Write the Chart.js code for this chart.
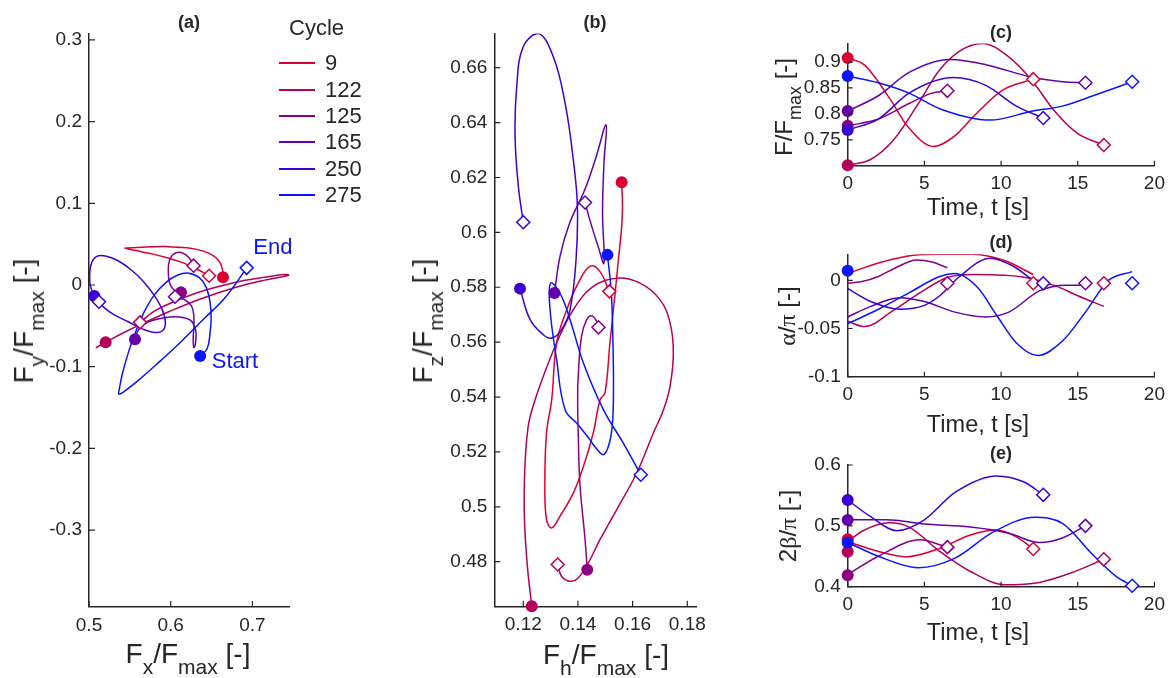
<!DOCTYPE html>
<html>
<head>
<meta charset="utf-8">
<script src="https://cdn.jsdelivr.net/npm/chart.js@4.4.0/dist/chart.umd.min.js"></script>
<style>
  body { margin: 0; background: #fff; }
  #wrap { position: relative; width: 1172px; height: 678px; overflow: hidden;
          font-family: "Liberation Sans", Arial, sans-serif; color: #262626; }
  #wrap canvas { position: absolute; left: 0; top: 0; }
  .lbl { position: absolute; white-space: nowrap; line-height: 1; }
  .lbl sub { font-size: 0.75em; position: relative; top: 0.5em; vertical-align: baseline; line-height: 0; }
  .g { font-family: "Liberation Serif", "DejaVu Serif", serif; }
  .ttl { font-weight: bold; }
</style>
</head>
<body>
<div id="wrap">
  <canvas id="cA" width="1172" height="678"></canvas>
  <canvas id="cB" width="1172" height="678"></canvas>
  <canvas id="cC" width="1172" height="678"></canvas>
  <canvas id="cD" width="1172" height="678"></canvas>
  <canvas id="cE" width="1172" height="678"></canvas>
</div>
<script>
// Серии (циклы) и цвета
const cycles = ['9', '122', '125', '165', '250', '275'];
const colors = ['#DC0032', '#B4005A', '#8C0082', '#6400AA', '#3C00D2', '#0A14FF'];

// (a) траектории Fx/Fmax, Fy/Fmax
const aFx = [
  [0.664, 0.6635, 0.660, 0.652, 0.640, 0.620, 0.595, 0.570, 0.552, 0.544, 0.556, 0.575, 0.597, 0.617, 0.633, 0.647],
  [0.5204, 0.509, 0.5215, 0.544, 0.566, 0.597, 0.638, 0.679, 0.715, 0.738, 0.7455, 0.738, 0.715, 0.68, 0.64, 0.605, 0.58, 0.5624],
  [0.6126, 0.6035, 0.5985, 0.597, 0.5985, 0.603, 0.611, 0.619, 0.625, 0.628],
  [0.5563, 0.561, 0.572, 0.59, 0.61, 0.624, 0.6305, 0.6305, 0.6285, 0.6275, 0.6285, 0.626, 0.617, 0.6053],
  [0.5065, 0.5015, 0.501, 0.5035, 0.5095, 0.520, 0.535, 0.551, 0.566, 0.580, 0.590, 0.5935, 0.590, 0.580, 0.566, 0.548, 0.530, 0.519, 0.5122],
  [0.636, 0.6445, 0.648, 0.6495, 0.648, 0.643, 0.635, 0.622, 0.608, 0.594, 0.580, 0.568, 0.558, 0.549, 0.541, 0.537, 0.5365, 0.542, 0.56, 0.585, 0.612, 0.64, 0.667, 0.693]
];
const aFy = [
  [0.0094, 0.018, 0.028, 0.036, 0.0415, 0.0455, 0.047, 0.0465, 0.0455, 0.045, 0.0425, 0.0385, 0.033, 0.0265, 0.019, 0.0114],
  [-0.0702, -0.0765, -0.0695, -0.0575, -0.047, -0.033, -0.0165, -0.003, 0.006, 0.0105, 0.0122, 0.0128, 0.0095, 0.0035, -0.007, -0.020, -0.032, -0.0457],
  [-0.009, -0.0055, 0.003, 0.018, 0.030, 0.0375, 0.040, 0.0365, 0.030, 0.0237],
  [-0.0665, -0.054, -0.0455, -0.0405, -0.039, -0.043, -0.055, -0.070, -0.0765, -0.066, -0.045, -0.027, -0.018, -0.0143],
  [-0.0135, 0.0, 0.016, 0.028, 0.035, 0.0355, 0.030, 0.019, 0.005, -0.013, -0.031, -0.046, -0.056, -0.058, -0.054, -0.045, -0.036, -0.028, -0.0204],
  [-0.087, -0.078, -0.06, -0.04, -0.02, -0.002, 0.009, 0.0145, 0.012, 0.003, -0.012, -0.032, -0.055, -0.08, -0.108, -0.128, -0.1335, -0.131, -0.117, -0.095, -0.07, -0.042, -0.015, 0.021]
];

// (b) траектории Fh/Fmax, Fz/Fmax
const bFh = [
  [0.1560, 0.1563, 0.1560, 0.1548, 0.1536, 0.1517, 0.1499, 0.1481, 0.1456, 0.142, 0.1383, 0.1334, 0.1304, 0.1285, 0.1279, 0.1285, 0.1304, 0.1322, 0.1359, 0.1401, 0.1444, 0.1480, 0.1515],
  [0.1231, 0.1215, 0.1204, 0.1206, 0.1218, 0.1237, 0.1273, 0.1322, 0.1383, 0.1456, 0.1542, 0.1627, 0.1700, 0.1737, 0.1749, 0.1737, 0.1713, 0.1676, 0.1615, 0.1542, 0.1481, 0.1438, 0.140, 0.1371, 0.134, 0.1326],
  [0.1434, 0.1426, 0.1407, 0.1401, 0.1399, 0.1401, 0.1413, 0.1432, 0.145, 0.1466, 0.1475],
  [0.1314, 0.1335, 0.137, 0.1425, 0.1465, 0.1503, 0.1495, 0.149, 0.1495, 0.1475, 0.1445, 0.1426],
  [0.1188, 0.1225, 0.1273, 0.1304, 0.134, 0.1371, 0.1393, 0.1398, 0.1383, 0.1353, 0.1310, 0.1255, 0.1200, 0.1176, 0.1170, 0.1182, 0.1200],
  [0.1508, 0.1522, 0.1528, 0.153, 0.1526, 0.1513, 0.1493, 0.1465, 0.1444, 0.140, 0.1353, 0.1322, 0.1298, 0.1300, 0.1334, 0.1371, 0.142, 0.1493, 0.1566, 0.163]
];
const bFz = [
  [0.6183, 0.6095, 0.6021, 0.590, 0.5779, 0.5597, 0.5415, 0.539, 0.5269, 0.5147, 0.505, 0.4965, 0.4923, 0.4953, 0.5087, 0.5269, 0.539, 0.5597, 0.5718, 0.5815, 0.5876, 0.5858, 0.5785],
  [0.4638, 0.4784, 0.4965, 0.5147, 0.5293, 0.5370, 0.5475, 0.5597, 0.5718, 0.5803, 0.5833, 0.5815, 0.5755, 0.5670, 0.5560, 0.5439, 0.5354, 0.5269, 0.5123, 0.499, 0.4881, 0.4796, 0.474, 0.4729, 0.4747, 0.479],
  [0.4771, 0.4881, 0.5087, 0.5269, 0.539, 0.5475, 0.5621, 0.5682, 0.5696, 0.568, 0.5654],
  [0.5779, 0.5915, 0.6035, 0.6155, 0.627, 0.6392, 0.625, 0.607, 0.5888, 0.5945, 0.604, 0.6109],
  [0.5795, 0.5682, 0.5627, 0.5615, 0.5645, 0.5718, 0.590, 0.6095, 0.6265, 0.6471, 0.6640, 0.6725, 0.6677, 0.6531, 0.6349, 0.6168, 0.6037],
  [0.5918, 0.578, 0.560, 0.543, 0.530, 0.5225, 0.519, 0.5215, 0.5244, 0.530, 0.5354, 0.5536, 0.5718, 0.5815, 0.5779, 0.5682, 0.5524, 0.5354, 0.5232, 0.5117]
];

// (c) F/Fmax по времени
const cT = [
  [0, 1.1, 2.8, 3.9, 5.6, 7, 8.2, 10.1, 12.1],
  [0, 1.5, 3, 4.5, 6, 7.5, 8.8, 10.5, 12, 13.5, 15, 16.7],
  [0, 2, 4, 5.5, 6.5],
  [0, 2, 4, 6.7, 9, 12.1, 14, 15.5],
  [0, 2, 4, 6.9, 9, 11, 12.75],
  [0, 2, 4, 6, 9.3, 12, 14, 16, 18.55]
];
const cF = [
  [0.908, 0.894, 0.827, 0.776, 0.737, 0.758, 0.795, 0.846, 0.867],
  [0.701, 0.712, 0.75, 0.815, 0.885, 0.925, 0.936, 0.91, 0.865, 0.805, 0.762, 0.740],
  [0.777, 0.79, 0.82, 0.84, 0.8445],
  [0.8055, 0.835, 0.88, 0.905, 0.895, 0.87, 0.862, 0.86],
  [0.769, 0.79, 0.84, 0.87, 0.855, 0.815, 0.792],
  [0.873, 0.86, 0.84, 0.81, 0.788, 0.805, 0.815, 0.835, 0.862]
];

// (d) alpha/pi по времени
const dT = [
  [0, 2, 4.3, 6, 8.2, 10.3, 12.1],
  [0, 1.1, 3, 4.7, 6.5, 8.2, 11.6, 13.6, 15, 16.7],
  [0, 1, 2, 3, 4.5, 5.5, 6.5],
  [0, 1.5, 3.4, 5, 7, 9, 10.5, 12.5, 14.2, 15.5],
  [0, 1.5, 3.4, 5, 6, 7.3, 9.3, 10.8, 12.1, 12.75],
  [0, 2, 4, 6, 7, 8.5, 9.7, 11, 12.4, 14, 15.5, 17, 18.55]
];
const dA = [
  [0.007, 0.018, 0.026, 0.027, 0.027, 0.020, 0.006],
  [-0.0425, -0.048, -0.031, -0.013, 0.003, 0.006, 0.003, -0.006, -0.016, -0.027],
  [-0.003, -0.001, 0.004, 0.012, 0.021, 0.019, 0.013],
  [-0.038, -0.027, -0.018, -0.022, -0.033, -0.038, -0.033, -0.011, -0.005, -0.005],
  [-0.0085, -0.022, -0.030, -0.026, -0.016, 0.004, 0.023, 0.0146, 0.0, -0.005],
  [-0.045, -0.030, -0.013, 0.004, 0.007, -0.008, -0.036, -0.065, -0.078, -0.063, -0.033, 0.000, 0.009]
];

// (e) 2beta/pi по времени
const eT = [
  [0, 2, 3.8, 6, 8, 9.7, 11, 12.1],
  [0, 1, 2.7, 4, 6, 8, 10.3, 12.5, 14.5, 16.7],
  [0, 2, 4.7, 6.5],
  [0, 2.5, 5, 8, 10.5, 12.5, 14, 15.5],
  [0, 1.5, 3.2, 5, 7, 9.7, 11.5, 12.75],
  [0, 2, 4.6, 7, 9.5, 12.2, 14, 16, 17.5, 18.55]
];
const eB = [
  [0.474, 0.458, 0.449, 0.463, 0.485, 0.493, 0.482, 0.462],
  [0.474, 0.492, 0.505, 0.498, 0.458, 0.425, 0.403, 0.407, 0.422, 0.445],
  [0.42, 0.45, 0.477, 0.465],
  [0.51, 0.51, 0.503, 0.498, 0.488, 0.4725, 0.48, 0.50],
  [0.5425, 0.515, 0.492, 0.51, 0.555, 0.582, 0.572, 0.551],
  [0.4727, 0.45, 0.4312, 0.447, 0.49, 0.514, 0.504, 0.452, 0.417, 0.4016]
];

// маркеры начала (круг) и конца (ромб) для (c)-(e)
const endTimes = [12.1, 16.7, 6.5, 15.5, 12.75, 18.55];
const cStartV = [0.908, 0.701, 0.777, 0.8055, 0.769, 0.873];
const cEndV = [0.867, 0.740, 0.8445, 0.860, 0.792, 0.862];
const dStartV = [null, null, null, null, null, 0.010];
const dEndV = [-0.003, -0.003, -0.003, -0.003, -0.003, -0.003];
const eStartV = [0.478, 0.4576, 0.419, 0.5096, 0.5425, 0.4727];
const eEndV = [0.462, 0.445, 0.465, 0.500, 0.551, 0.4016];

// деления осей
const aXTicks = [0.5, 0.6, 0.7];
const aYTicks = [-0.3, -0.2, -0.1, 0, 0.1, 0.2, 0.3];
const bXTicks = [0.12, 0.14, 0.16, 0.18];
const bYTicks = [0.48, 0.5, 0.52, 0.54, 0.56, 0.58, 0.6, 0.62, 0.64, 0.66];
const tTicks = [0, 5, 10, 15, 20];
const cYTicks = [0.75, 0.8, 0.85, 0.9];
const dYTicks = [-0.1, -0.05, 0];
const eYTicks = [0.4, 0.5, 0.6];

const W = 1172, H = 678, Y_W = 70, X_H = 44;
const axisColor = '#262626';
Chart.defaults.font.family = '"Liberation Sans", Arial, sans-serif';
Chart.defaults.color = axisColor;

// Внутренние засечки, как в MATLAB
const innerTicks = {
    id: 'innerTicks',
    afterDraw(chart, args, opts) {
        const { ctx, chartArea: a, scales: { x, y } } = chart;
        const len = opts.len || 5;
        ctx.save();
        ctx.strokeStyle = axisColor;
        ctx.lineWidth = 1.2;
        ctx.beginPath();
        x.ticks.forEach(t => {
            const p = x.getPixelForValue(t.value);
            ctx.moveTo(p, a.bottom);
            ctx.lineTo(p, a.bottom - len);
        });
        y.ticks.forEach(t => {
            const p = y.getPixelForValue(t.value);
            ctx.moveTo(a.left, p);
            ctx.lineTo(a.left + len, p);
        });
        ctx.stroke();
        ctx.restore();
    }
};

// Подписи Start / End в координатах данных
const textMarks = {
    id: 'textMarks',
    afterDatasetsDraw(chart, args, opts) {
        if (!opts.items) return;
        const { ctx, scales: { x, y } } = chart;
        ctx.save();
        ctx.font = '22px "Liberation Sans", Arial, sans-serif';
        ctx.textAlign = 'left';
        ctx.textBaseline = 'middle';
        opts.items.forEach(it => {
            ctx.fillStyle = it.color;
            ctx.fillText(it.text, x.getPixelForValue(it.x), y.getPixelForValue(it.y));
        });
        ctx.restore();
    }
};

function toPoints(xs, ys) {
    return xs.map((v, i) => ({ x: v, y: ys[i] }));
}

function lineSets(xs, ys, mode) {
    return xs.map((arr, i) => ({
        data: toPoints(arr, ys[i]),
        showLine: true,
        borderColor: colors[i],
        borderWidth: 1.5,
        pointRadius: 0,
        tension: mode === 'monotone' ? 0 : 0.4,
        cubicInterpolationMode: mode === 'monotone' ? 'monotone' : 'default',
        order: 20 - i
    }));
}

function markerSets(starts, ends) {
    const sets = [];
    starts.forEach((p, i) => {
        if (p) sets.push({
            data: [p], pointStyle: 'circle', pointRadius: 6,
            backgroundColor: colors[i], borderColor: colors[i], borderWidth: 0,
            clip: false, order: 10 - i
        });
    });
    ends.forEach((p, i) => {
        if (p) sets.push({
            data: [p], pointStyle: 'rectRot', pointRadius: 6.5,
            backgroundColor: '#ffffff', borderColor: colors[i], borderWidth: 1.5,
            clip: false, order: 5 - i
        });
    });
    return sets;
}

function axis(min, max, ticks) {
    return {
        type: 'linear', min: min, max: max,
        grid: { display: false, drawTicks: false, tickLength: 0 },
        border: { display: true, color: axisColor, width: 1.5 },
        ticks: { color: axisColor, font: { size: 19 }, callback: v => String(v) },
        afterBuildTicks: s => { s.ticks = ticks.map(v => ({ value: v })); }
    };
}

function panel(id, box, xr, yr, xTicks, yTicks, datasets, extra) {
    const xs = axis(xr[0], xr[1], xTicks);
    xs.ticks.padding = 7;
    xs.afterFit = s => { s.height = X_H; };
    const ys = axis(yr[0], yr[1], yTicks);
    ys.ticks.padding = 7;
    ys.afterFit = s => { s.width = Y_W; };
    return new Chart(document.getElementById(id), {
        type: 'scatter',
        data: { datasets: datasets },
        options: {
            responsive: false,
            animation: false,
            events: [],
            layout: {
                autoPadding: false,
                padding: { left: box.l - Y_W, top: box.t, right: W - box.r, bottom: H - box.b - X_H }
            },
            plugins: Object.assign({
                legend: { display: false },
                tooltip: { enabled: false },
                innerTicks: { len: 6 }
            }, extra || {}),
            scales: { x: xs, y: ys }
        },
        plugins: [innerTicks, textMarks]
    });
}

// (a)
panel('cA', { l: 89, t: 33.4, r: 289.2, b: 606.9 }, [0.5, 0.745], [-0.394, 0.308], aXTicks, aYTicks,
    lineSets(aFx, aFy).concat(markerSets(
        aFx.map((a, i) => ({ x: a[0], y: aFy[i][0] })),
        aFx.map((a, i) => ({ x: a[a.length - 1], y: aFy[i][aFy[i].length - 1] }))
    )),
    { textMarks: { items: [
        { text: 'Start', x: 0.6502, y: -0.0942, color: colors[5] },
        { text: 'End', x: 0.7011, y: 0.0457, color: colors[5] }
    ] } });

// (b)
panel('cB', { l: 494.3, t: 33.4, r: 696.3, b: 606.7 }, [0.1094, 0.1833], [0.4636, 0.6725], bXTicks, bYTicks,
    lineSets(bFh, bFz).concat(markerSets(
        bFh.map((a, i) => ({ x: a[0], y: bFz[i][0] })),
        bFh.map((a, i) => ({ x: a[a.length - 1], y: bFz[i][bFz[i].length - 1] }))
    )));

// (c)
panel('cC', { l: 847.7, t: 43.4, r: 1155, b: 165.7 }, [0, 20], [0.70, 0.936], tTicks, cYTicks,
    lineSets(cT, cF, 'monotone').concat(markerSets(
        cStartV.map(v => ({ x: 0, y: v })),
        cEndV.map((v, i) => ({ x: endTimes[i], y: v }))
    )), { innerTicks: { len: 5 } });

// (d)
panel('cD', { l: 847.7, t: 254.3, r: 1155, b: 376.7 }, [0, 20], [-0.1, 0.027], tTicks, dYTicks,
    lineSets(dT, dA, 'monotone').concat(markerSets(
        dStartV.map(v => (v === null ? null : { x: 0, y: v })),
        dEndV.map((v, i) => ({ x: endTimes[i], y: v }))
    )), { innerTicks: { len: 5 } });

// (e)
panel('cE', { l: 847.7, t: 465, r: 1155, b: 586.7 }, [0, 20], [0.4, 0.6], tTicks, eYTicks,
    lineSets(eT, eB, 'monotone').concat(markerSets(
        eStartV.map(v => ({ x: 0, y: v })),
        eEndV.map((v, i) => ({ x: endTimes[i], y: v }))
    )), { innerTicks: { len: 5 } });

// Текстовые подписи: заголовки и оси
const wrap = document.getElementById('wrap');
function addLabel(html, cx, cy, size, rotate, cls) {
    const d = document.createElement('div');
    d.className = 'lbl' + (cls ? ' ' + cls : '');
    d.innerHTML = html;
    d.style.fontSize = size + 'px';
    d.style.left = cx + 'px';
    d.style.top = cy + 'px';
    d.style.transform = 'translate(-50%,-50%)' + (rotate ? ' rotate(-90deg)' : '');
    wrap.appendChild(d);
}

addLabel('(a)', 189, 21.5, 18, false, 'ttl');
addLabel('(b)', 595, 21.5, 18, false, 'ttl');
addLabel('(c)', 1001, 31.5, 18, false, 'ttl');
addLabel('(d)', 1001, 242, 18, false, 'ttl');
addLabel('(e)', 1001, 453, 18, false, 'ttl');

addLabel('F<sub>x</sub>/F<sub>max</sub> [-]', 188, 654.3, 28);
addLabel('F<sub>y</sub>/F<sub>max</sub> [-]', 23.6, 321, 28, true);
addLabel('F<sub>h</sub>/F<sub>max</sub> [-]', 606, 655.3, 28);
addLabel('F<sub>z</sub>/F<sub>max</sub> [-]', 423.3, 321, 28, true);

addLabel('Time, t [s]', 978, 207.7, 23.5);
addLabel('Time, t [s]', 978, 424.7, 23.5);
addLabel('Time, t [s]', 978, 633.4, 23.5);
addLabel('F/F<sub>max</sub> [-]', 783.7, 107, 24, true);
addLabel('<span class="g">α</span>/<span class="g">π</span> [-]', 786.7, 316, 24, true);
addLabel('2<span class="g">β</span>/<span class="g">π</span> [-]', 787.7, 526, 24, true);

// Легенда "Cycle"
addLabel('Cycle', 316.5, 28.3, 22);
cycles.forEach((c, i) => {
    const y = Math.round(63.3 + i * 26.3);
    const line = document.createElement('div');
    line.style.cssText = `position:absolute;left:279px;top:${y - 1}px;width:36px;height:2px;background:${colors[i]};`;
    wrap.appendChild(line);
    const t = document.createElement('div');
    t.className = 'lbl';
    t.textContent = c;
    t.style.cssText += `left:325px;top:${y}px;font-size:22px;transform:translateY(-50%);`;
    wrap.appendChild(t);
});
</script>
</body>
</html>
